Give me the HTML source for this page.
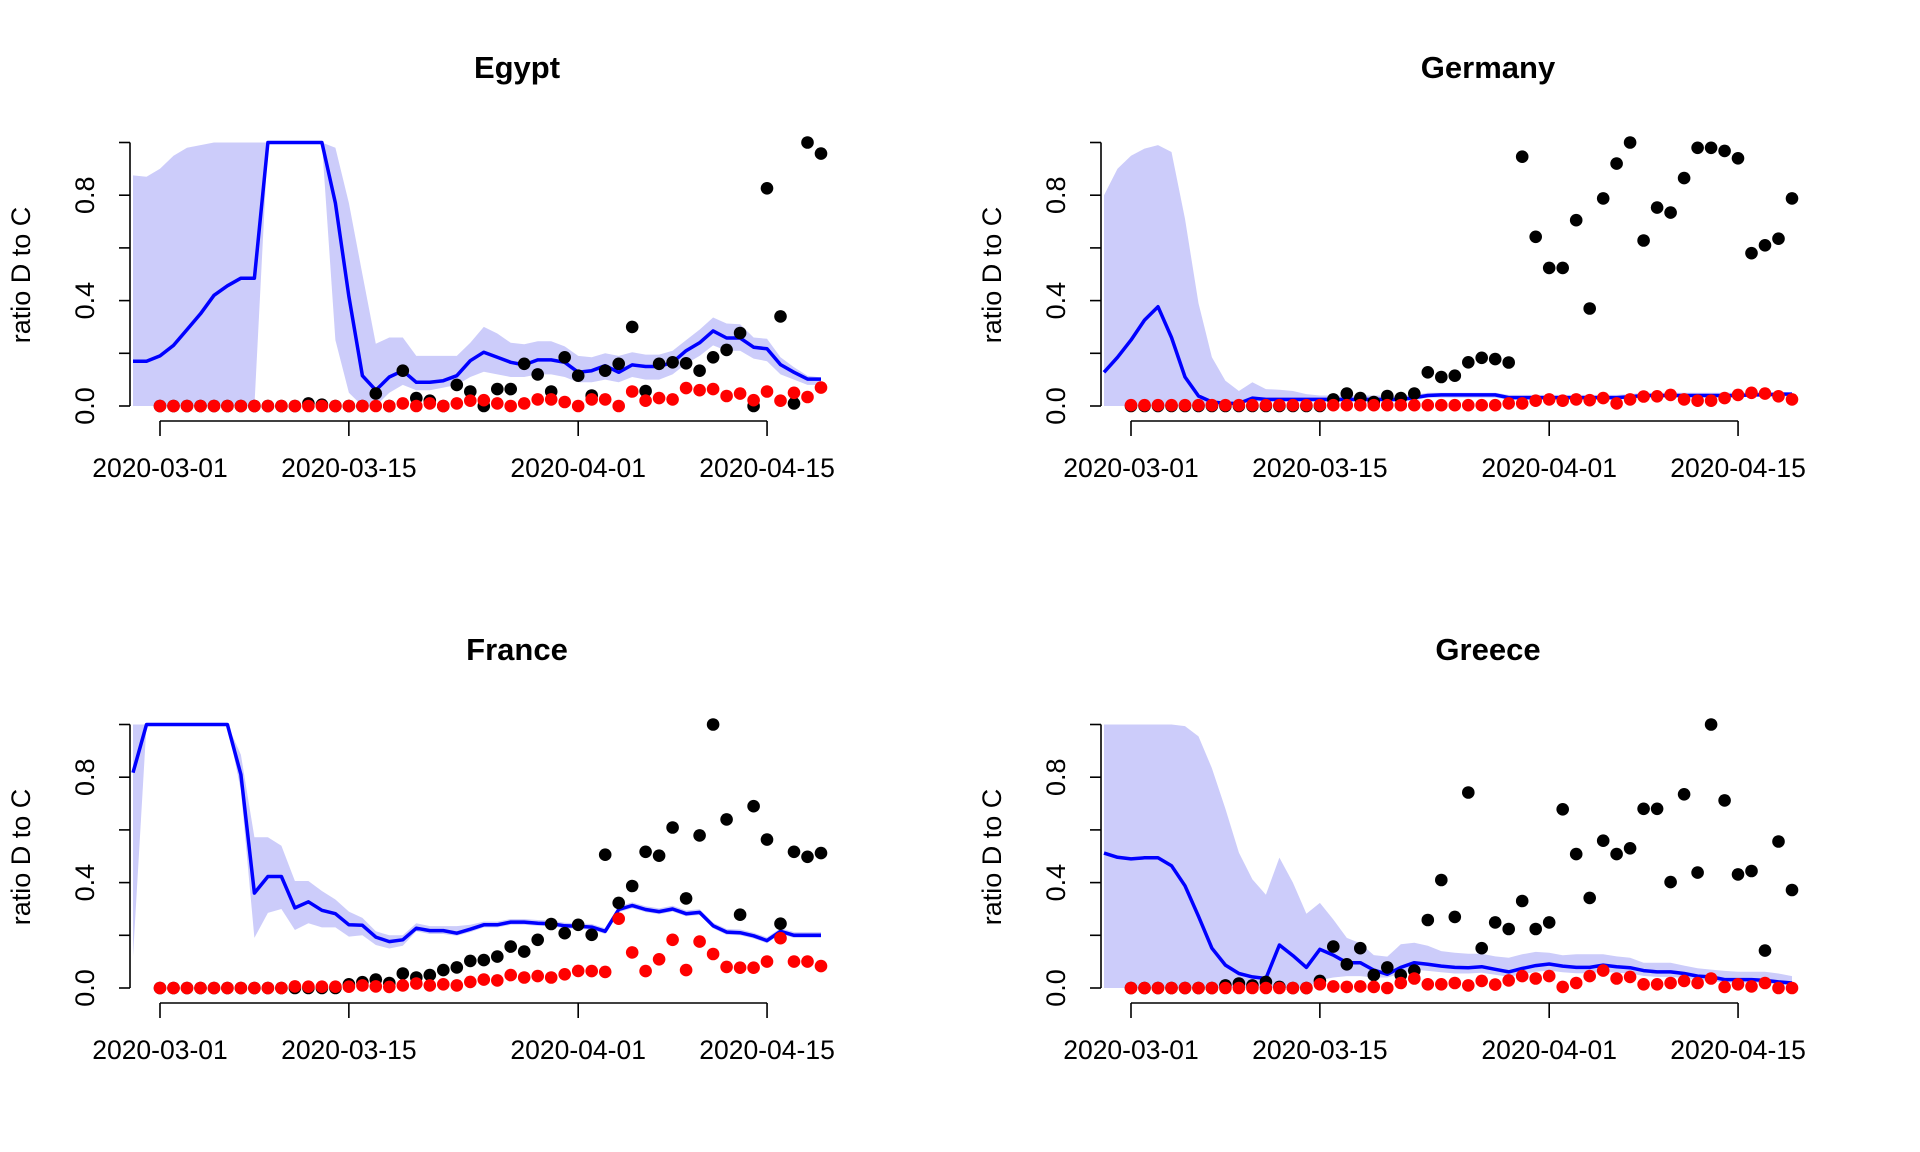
<!DOCTYPE html>
<html><head><meta charset="utf-8"><style>
html,body{margin:0;padding:0;background:#fff;}
svg{display:block;font-family:"Liberation Sans",Arial,sans-serif;}
</style></head><body>
<svg id="chart" width="1920" height="1152" viewBox="0 0 1920 1152" xmlns="http://www.w3.org/2000/svg"></svg>
<script>
const countries = ["Egypt","Germany","France","Greece"];
const xTickDays = [0,14,31,45];
const xTickLabels = ["2020-03-01","2020-03-15","2020-04-01","2020-04-15"];
const yTicks = [0,0.2,0.4,0.6,0.8,1.0];
const yTickLabels = ["0.0","","0.4","","0.8",""];

const egyptLine = [0.17,0.17,0.19,0.23,0.29,0.35,0.42,0.456,0.485,0.485,1,1,1,1,1,0.77,0.415,0.115,0.06,0.11,0.134,0.09,0.09,0.096,0.115,0.172,0.204,0.185,0.166,0.156,0.175,0.175,0.166,0.128,0.134,0.153,0.128,0.156,0.15,0.15,0.166,0.21,0.24,0.285,0.258,0.258,0.223,0.217,0.157,0.128,0.102,0.102];
const egyptUpper = [0.875,0.87,0.9,0.95,0.98,0.99,1,1,1,1,1,1,1,1,1,0.98,0.77,0.5,0.236,0.26,0.26,0.19,0.19,0.19,0.19,0.24,0.3,0.275,0.24,0.234,0.246,0.246,0.226,0.19,0.185,0.2,0.19,0.204,0.195,0.195,0.21,0.25,0.29,0.336,0.313,0.31,0.26,0.255,0.185,0.147,0.115,0.108];
const egyptLower = [0,0,0,0,0,0,0,0,0,0,1,1,1,1,1,0.25,0.05,0,0,0.05,0.08,0.06,0.06,0.07,0.08,0.11,0.13,0.12,0.11,0.11,0.12,0.12,0.11,0.09,0.09,0.1,0.09,0.11,0.1,0.1,0.12,0.16,0.19,0.23,0.21,0.21,0.18,0.17,0.12,0.1,0.08,0.08];
const egyptDaily = [0,0,0,0,0,0,0,0,0,0,0,0.01,0.005,0,0,0,0.047,0,0.134,0.03,0.02,0,0.08,0.055,0,0.064,0.064,0.16,0.12,0.055,0.185,0.115,0.04,0.134,0.16,0.30,0.057,0.16,0.166,0.162,0.134,0.185,0.213,0.277,0,0.826,0.34,0.01,1.0,0.958];
const egyptCum = [0,0,0,0,0,0,0,0,0,0,0,0,0,0,0,0,0,0,0.01,0,0.01,0,0.01,0.02,0.022,0.01,0,0.01,0.025,0.025,0.015,0,0.025,0.025,0,0.055,0.02,0.03,0.025,0.068,0.06,0.064,0.038,0.047,0.022,0.055,0.02,0.05,0.034,0.07];

const germanyLine = [0.128,0.185,0.25,0.326,0.377,0.26,0.11,0.038,0.015,0.01,0.01,0.03,0.025,0.025,0.025,0.025,0.025,0.025,0.025,0.025,0.025,0.025,0.025,0.032,0.04,0.042,0.042,0.042,0.042,0.042,0.032,0.032,0.032,0.032,0.032,0.032,0.032,0.032,0.032,0.035,0.04,0.04,0.04,0.04,0.04,0.04,0.04,0.04,0.042,0.042,0.045,0.045];
const germanyUpper = [0.8,0.9,0.95,0.977,0.99,0.964,0.71,0.39,0.185,0.096,0.057,0.09,0.064,0.062,0.057,0.045,0.04,0.04,0.04,0.04,0.04,0.04,0.04,0.042,0.05,0.05,0.05,0.05,0.05,0.05,0.042,0.042,0.042,0.042,0.042,0.042,0.042,0.042,0.042,0.045,0.05,0.05,0.05,0.05,0.05,0.05,0.05,0.05,0.052,0.052,0.052,0.052];
const germanyLower = [0,0,0,0,0,0,0,0,0,0,0.005,0.02,0.015,0.015,0.015,0.015,0.015,0.015,0.015,0.015,0.015,0.015,0.015,0.022,0.032,0.032,0.032,0.032,0.032,0.032,0.024,0.024,0.024,0.024,0.024,0.024,0.024,0.024,0.024,0.027,0.032,0.032,0.032,0.032,0.032,0.032,0.032,0.032,0.036,0.036,0.036,0.036];
const germanyDaily = [0,0,0,0,0,0,0,0,0,0,0,0,0,0,0,0.025,0.047,0.03,0.015,0.038,0.03,0.047,0.128,0.11,0.115,0.166,0.183,0.178,0.165,0.946,0.642,0.524,0.524,0.705,0.37,0.788,0.92,1.0,0.628,0.753,0.734,0.865,0.98,0.98,0.968,0.94,0.58,0.61,0.635,0.788];
const germanyCum = [0.003,0.003,0.003,0.003,0.003,0.003,0.003,0.003,0.003,0.003,0.003,0.003,0.003,0.003,0.003,0.003,0.003,0.003,0.003,0.003,0.003,0.003,0.003,0.003,0.003,0.003,0.003,0.003,0.01,0.01,0.02,0.025,0.02,0.025,0.022,0.03,0.01,0.025,0.036,0.037,0.042,0.025,0.02,0.02,0.03,0.042,0.05,0.047,0.037,0.025];

const franceLine = [0.817,1,1,1,1,1,1,1,0.81,0.36,0.423,0.423,0.304,0.327,0.295,0.282,0.24,0.238,0.193,0.176,0.183,0.227,0.218,0.218,0.208,0.223,0.24,0.24,0.25,0.25,0.246,0.244,0.236,0.234,0.231,0.215,0.298,0.313,0.298,0.29,0.3,0.282,0.287,0.236,0.212,0.21,0.198,0.18,0.215,0.2,0.2,0.2];
const franceUpper = [1,1,1,1,1,1,1,1,0.885,0.572,0.572,0.54,0.406,0.406,0.368,0.336,0.29,0.266,0.215,0.2,0.2,0.246,0.235,0.235,0.235,0.24,0.252,0.252,0.262,0.262,0.258,0.256,0.248,0.246,0.243,0.227,0.31,0.325,0.31,0.302,0.312,0.294,0.299,0.248,0.224,0.222,0.21,0.192,0.227,0.212,0.212,0.212];
const franceLower = [0.12,1,1,1,1,1,1,1,0.75,0.19,0.285,0.3,0.22,0.246,0.23,0.23,0.195,0.2,0.163,0.15,0.16,0.215,0.205,0.205,0.198,0.212,0.23,0.23,0.24,0.24,0.236,0.234,0.226,0.224,0.221,0.205,0.288,0.303,0.288,0.28,0.29,0.272,0.277,0.226,0.202,0.2,0.188,0.17,0.205,0.19,0.19,0.19];
const franceDaily = [0,0,0,0,0,0,0,0,0,0,0,0,0,0,0.014,0.022,0.032,0.019,0.055,0.04,0.049,0.068,0.078,0.103,0.106,0.119,0.157,0.138,0.183,0.243,0.208,0.24,0.202,0.506,0.323,0.387,0.517,0.502,0.609,0.34,0.579,1.0,0.64,0.278,0.69,0.563,0.244,0.517,0.498,0.512];
const franceCum = [0,0,0,0,0,0,0,0,0,0,0.006,0.005,0.005,0.005,0.005,0.01,0.006,0.004,0.01,0.017,0.01,0.014,0.01,0.023,0.032,0.029,0.049,0.04,0.045,0.04,0.052,0.065,0.064,0.061,0.263,0.135,0.064,0.109,0.183,0.068,0.176,0.129,0.08,0.077,0.077,0.1,0.189,0.1,0.1,0.083];

const greeceLine = [0.512,0.496,0.49,0.494,0.494,0.464,0.388,0.272,0.151,0.087,0.055,0.042,0.036,0.163,0.123,0.078,0.147,0.125,0.096,0.096,0.068,0.052,0.078,0.096,0.09,0.083,0.078,0.077,0.081,0.071,0.061,0.074,0.085,0.091,0.083,0.078,0.078,0.087,0.081,0.077,0.066,0.061,0.061,0.055,0.045,0.042,0.032,0.032,0.032,0.029,0.023,0.019];
const greeceUpper = [1,1,1,1,1,1,0.994,0.955,0.834,0.68,0.514,0.412,0.354,0.495,0.4,0.282,0.323,0.26,0.19,0.17,0.125,0.119,0.166,0.172,0.16,0.14,0.134,0.13,0.13,0.12,0.115,0.128,0.137,0.134,0.124,0.128,0.128,0.128,0.12,0.115,0.096,0.096,0.096,0.085,0.075,0.07,0.065,0.062,0.062,0.062,0.055,0.045];
const greeceLower = [0,0,0,0,0,0,0,0,0,0,0,0,0,0,0,0,0.03,0.04,0.045,0.045,0.04,0.04,0.055,0.07,0.065,0.06,0.055,0.055,0.058,0.05,0.042,0.052,0.062,0.066,0.06,0.056,0.056,0.062,0.058,0.055,0.046,0.042,0.042,0.038,0.03,0.028,0.02,0.02,0.02,0.018,0.012,0.01];
const greeceDaily = [0,0,0,0,0,0,0,0.01,0.017,0.01,0.023,0.004,0,0,0.027,0.157,0.09,0.151,0.049,0.078,0.049,0.066,0.258,0.41,0.27,0.742,0.151,0.249,0.224,0.33,0.224,0.249,0.678,0.508,0.342,0.559,0.508,0.53,0.68,0.68,0.402,0.735,0.438,1.0,0.712,0.431,0.444,0.142,0.556,0.372];
const greeceCum = [0,0,0,0,0,0,0,0,0,0,0,0,0,0,0.014,0.006,0.004,0.006,0.004,0,0.019,0.036,0.014,0.014,0.019,0.01,0.027,0.013,0.029,0.045,0.036,0.045,0.004,0.019,0.045,0.066,0.036,0.042,0.014,0.014,0.019,0.027,0.019,0.036,0.004,0.014,0.006,0.019,0,0];

const lineStartDay = -2;
const panels = [
  {name:"egypt", line:egyptLine, up:egyptUpper, lo:egyptLower, daily:egyptDaily, cum:egyptCum, ox:0, oy:0},
  {name:"germany", line:germanyLine, up:germanyUpper, lo:germanyLower, daily:germanyDaily, cum:germanyCum, ox:971, oy:0},
  {name:"france", line:franceLine, up:franceUpper, lo:franceLower, daily:franceDaily, cum:franceCum, ox:0, oy:582},
  {name:"greece", line:greeceLine, up:greeceUpper, lo:greeceLower, daily:greeceDaily, cum:greeceCum, ox:971, oy:582}
];

const NS = "http://www.w3.org/2000/svg";
const svg = document.getElementById("chart");
function mk(tag, attrs, parent){
  const e = document.createElementNS(NS, tag);
  for (const k in attrs) e.setAttribute(k, attrs[k]);
  parent.appendChild(e);
  return e;
}
panels.forEach((p, pi) => {
  const xS = d => p.ox + 160 + d * 13.49;
  const yS = v => p.oy + 406 - v * 263.5;
  const g = mk("g", {}, svg);
  
  
  let pts = [];
  p.up.forEach((v,i)=>pts.push(xS(i+lineStartDay).toFixed(1)+","+yS(v).toFixed(1)));
  for (let i=p.lo.length-1;i>=0;i--) pts.push(xS(i+lineStartDay).toFixed(1)+","+yS(p.lo[i]).toFixed(1));
  const band = mk("polygon", {points:pts.join(" "), fill:"#ccccfa", stroke:"none"}, g);
  
  
  const lp = p.line.map((v,i)=>xS(i+lineStartDay).toFixed(1)+","+yS(v).toFixed(1)).join(" ");
  const ln = mk("polyline", {points:lp, fill:"none", stroke:"#0000ff", "stroke-width":3.5, "stroke-linejoin":"round"}, g);
  
  
  p.daily.forEach((v,i)=>{
    const c = mk("circle", {cx:xS(i).toFixed(1), cy:yS(v).toFixed(1), r:6.3, fill:"#000"}, g);
    
    
  });
  p.cum.forEach((v,i)=>{
    const c = mk("circle", {cx:xS(i).toFixed(1), cy:yS(v).toFixed(1), r:6.3, fill:"#ff0000"}, g);
    
    
  });
  const ya = mk("g", {stroke:"#000","stroke-width":1.6}, g);
  
  
  mk("line", {x1:p.ox+130, x2:p.ox+130, y1:yS(0), y2:yS(1)}, ya);
  yTicks.forEach((t,i)=>{
    mk("line", {x1:p.ox+119, x2:p.ox+130, y1:yS(t), y2:yS(t)}, ya);
    if (yTickLabels[i]) {
      const tx = mk("text", {x:0, y:0, "font-size":27, "text-anchor":"middle", stroke:"none", fill:"#000",
        transform:`translate(${p.ox+94},${yS(t)}) rotate(-90)`}, g);
      tx.textContent = yTickLabels[i];
      
      
    }
  });
  const xa = mk("g", {stroke:"#000","stroke-width":1.6}, g);
  
  
  mk("line", {x1:xS(xTickDays[0]), x2:xS(xTickDays[xTickDays.length-1]), y1:p.oy+421, y2:p.oy+421}, xa);
  xTickDays.forEach((d,i)=>{
    mk("line", {x1:xS(d), x2:xS(d), y1:p.oy+421, y2:p.oy+436}, xa);
    const tx = mk("text", {x:xS(d), y:p.oy+477, "font-size":26.5, "text-anchor":"middle", fill:"#000"}, g);
    tx.textContent = xTickLabels[i];
    
    
  });
  const yl = mk("text", {x:0,y:0,"font-size":27,"text-anchor":"middle",fill:"#000",
    transform:`translate(${p.ox+30},${p.oy+275}) rotate(-90)`}, g);
  yl.textContent = "ratio D to C";
  
  
  const tt = mk("text", {x:p.ox+517, y:p.oy+78, "font-size":31, "font-weight":"bold", "text-anchor":"middle", fill:"#000"}, g);
  tt.textContent = countries[pi];
  
  
});
</script>
</body></html>
